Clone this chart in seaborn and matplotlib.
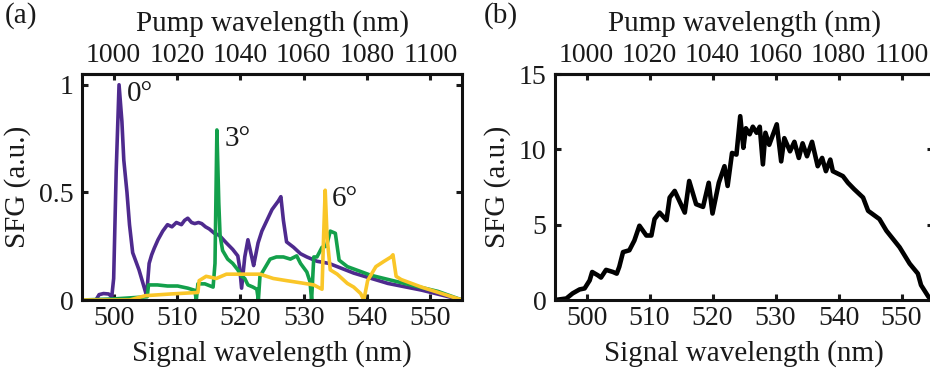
import numpy as np
import pandas as pd
import matplotlib
matplotlib.use("Agg")
import matplotlib.pyplot as plt
import seaborn as sns

# ---------------- data ----------------
# Panel (a): normalized SFG vs signal wavelength for three angles
lam0 = [495, 497.2, 497.7, 498.4, 499.2, 499.7, 500.0, 500.4, 500.85, 501.3, 501.6, 502.1, 502.5,
        503.0, 504.0, 504.8, 505.2, 505.6, 506.0, 506.4, 507.0, 507.75, 508.5, 509.2, 509.9, 510.7,
        511.2, 511.7, 512.3, 512.8, 513.4, 513.9, 514.5, 515.1, 515.9, 516.7, 517.8, 518.8, 519.6,
        519.9, 520.2, 520.7, 521.2, 521.8, 522.1, 522.8, 523.4, 524.2, 525.0, 526.0, 526.4, 526.8,
        527.3, 528.4, 529.5, 530.5, 532.1, 534.0, 537.9, 543.3, 548.6, 555]
sfg0 = [0, 0.0, 0.025, 0.03, 0.028, 0.015, 0.1, 0.6, 1.0, 0.83, 0.65, 0.5, 0.35, 0.22, 0.14, 0.06,
        0.02, 0.17, 0.21, 0.24, 0.28, 0.32, 0.35, 0.34, 0.36, 0.35, 0.37, 0.38, 0.36, 0.355, 0.36,
        0.355, 0.34, 0.33, 0.31, 0.30, 0.265, 0.235, 0.205, 0.15, 0.055, 0.2, 0.28, 0.2, 0.16, 0.265,
        0.32, 0.37, 0.42, 0.46, 0.48, 0.37, 0.27, 0.245, 0.215, 0.2, 0.18, 0.17, 0.125, 0.077, 0.046, 0.0]

lam3 = [495, 500, 505.3, 505.5, 506.9, 508.5, 510.1, 511.7, 512.8, 513.05, 513.3, 514.4, 515.7,
        516.0, 516.3, 516.6, 516.8, 517.2, 518.0, 518.8, 519.6, 520.2, 520.7, 521.2, 522.0, 522.6,
        522.85, 523.1, 523.9, 524.7, 525.7, 526.8, 527.9, 528.9, 529.5, 530.5, 531.0, 531.25, 531.6,
        532.1, 532.9, 533.6, 534.2, 535.0, 535.6, 536.9, 540.6, 545.9, 551.2, 555]
sfg3 = [0, 0.005, 0.015, 0.07, 0.07, 0.065, 0.065, 0.055, 0.045, 0.0, 0.075, 0.075, 0.06, 0.17,
        0.79, 0.45, 0.30, 0.23, 0.19, 0.17, 0.14, 0.11, 0.1, 0.07, 0.06, 0.05, 0.0, 0.11, 0.15, 0.19,
        0.2, 0.2, 0.19, 0.205, 0.17, 0.13, 0.085, 0.0, 0.2, 0.2, 0.245, 0.25, 0.32, 0.31, 0.185,
        0.155, 0.115, 0.077, 0.04, 0.0]

lam6 = [495, 502.5, 505.0, 509.0, 513.3, 513.5, 514.6, 516.2, 517.8, 519.4, 521.5, 523.1, 525.2,
        527.3, 529.5, 531.6, 532.9, 533.15, 533.4, 533.7, 534.2, 535.3, 536.9, 537.9, 539.0, 539.5,
        540.1, 541.4, 542.7, 543.8, 544.1, 544.6, 545.4, 548.6, 551.8, 555]
sfg6 = [0, 0.0, 0.02, 0.028, 0.035, 0.09, 0.11, 0.1, 0.12, 0.12, 0.12, 0.12, 0.1, 0.09, 0.08, 0.07,
        0.05, 0.3, 0.51, 0.29, 0.14, 0.12, 0.077, 0.06, 0.03, 0.0, 0.09, 0.155, 0.18, 0.2, 0.21, 0.11,
        0.095, 0.06, 0.03, 0.0]

angle_labels = ["0°", "3°", "6°"]
angle_colors = ["#4E2A8E", "#13A04B", "#FAC628"]
angle_label_pos = [(502.1, 0.955), (517.5, 0.75), (534.5, 0.47)]

# Panel (b): SFG vs signal wavelength
lamb = [495, 496.8, 497.8, 498.9, 499.7, 500.5, 500.9, 501.8, 502.3, 503.1, 504.2, 504.8, 505.2,
        505.8, 506.8, 507.6, 508.4, 509.5, 510.3, 510.8, 511.6, 512.7, 513.2, 514.0, 515.6, 516.3,
        517.4, 518.5, 519.4, 520.0, 521.0, 521.9, 522.4, 523.1, 523.8, 524.0, 524.4, 524.9, 525.3,
        525.9, 526.4, 527.0, 527.5, 528.0, 528.4, 529.0, 530.2, 530.9, 531.4, 532.3, 533.0, 533.7,
        534.3, 535.0, 535.8, 536.7, 537.4, 538.0, 538.7, 539.1, 540.7, 541.5, 542.5, 543.9, 544.7,
        546.5, 547.6, 549.7, 551.3, 552.6, 553.1, 554.3, 555]
sfgb = [0, 0.1, 0.44, 0.7, 0.77, 1.3, 1.86, 1.64, 1.49, 2.0, 1.86, 1.75, 2.2, 3.18, 3.3, 3.95, 4.93,
        4.28, 4.28, 5.37, 5.8, 5.3, 6.8, 7.24, 5.8, 7.9, 6.36, 6.18, 7.78, 5.74, 7.78, 8.88, 7.57,
        9.76, 9.65, 10.5, 12.2, 10.1, 11.4, 11.0, 11.5, 11.1, 11.5, 9.0, 11.1, 10.3, 11.66, 9.2,
        10.74, 9.87, 10.5, 9.43, 10.4, 9.54, 10.5, 8.88, 9.43, 8.55, 9.32, 8.55, 8.22, 7.78, 7.35,
        6.8, 5.92, 5.37, 4.6, 3.5, 2.41, 1.75, 0.99, 0.2, 0.0]

signal_ticks = [500, 510, 520, 530, 540, 550]
pump_ticks = [1000, 1020, 1040, 1060, 1080, 1100]
a_yticks = [0, 0.5, 1]
a_yticklabels = ["0", "0.5", "1"]
b_yticks = [0, 5, 10, 15]

# ---------------- style ----------------
sns.set_style("ticks")
plt.rcParams["font.family"] = ["Liberation Serif", "DejaVu Serif"]
FS = 20
LFS = 21
TXT = "#1a1a1a"

df_a = pd.concat([
    pd.DataFrame({"signal": lam0, "sfg": sfg0, "angle": angle_labels[0]}),
    pd.DataFrame({"signal": lam3, "sfg": sfg3, "angle": angle_labels[1]}),
    pd.DataFrame({"signal": lam6, "sfg": sfg6, "angle": angle_labels[2]}),
], ignore_index=True)
df_b = pd.DataFrame({"signal": lamb, "sfg": sfgb})

fig = plt.figure(figsize=(9.3, 3.75), dpi=100)
W, H = 930, 375
ax_a = fig.add_axes([82 / W, (H - 300) / H, 380 / W, 226 / H])
ax_b = fig.add_axes([555 / W, (H - 300) / H, 378 / W, 226 / H])

sns.lineplot(data=df_a, x="signal", y="sfg", hue="angle", hue_order=angle_labels,
             palette=dict(zip(angle_labels, angle_colors)), estimator=None, sort=False,
             linewidth=2.6, legend=False, ax=ax_a)
sns.lineplot(data=df_b, x="signal", y="sfg", color="black", estimator=None, sort=False,
             linewidth=3.3, legend=False, ax=ax_b)

for lab, (xx, yy) in zip(angle_labels, angle_label_pos):
    ax_a.text(xx, yy, lab, fontsize=LFS, color=TXT, ha="left", va="center")


def style_axis(ax, ylim, yticks, yticklabels):
    ax.set_xlim(495, 555)
    ax.set_ylim(*ylim)
    ax.set_xticks(signal_ticks)
    ax.set_xticklabels([str(t) for t in signal_ticks])
    ax.set_yticks(yticks)
    ax.set_yticklabels(yticklabels)
    ax.set_xlabel("Signal wavelength (nm)", fontsize=LFS, color=TXT, labelpad=7)
    ax.set_ylabel("SFG (a.u.)", fontsize=LFS, color=TXT, labelpad=6)
    ax.tick_params(axis="both", which="major", direction="in", length=4.5, width=2.2,
                   labelsize=FS, colors=TXT, pad=6, top=False, right=True)
    ax.tick_params(axis="x", pad=4)
    for s in ax.spines.values():
        s.set_visible(True)
        s.set_linewidth(2.2)
        s.set_color("#111111")
    sec = ax.secondary_xaxis("top", functions=(lambda s: 2 * s, lambda p: p / 2))
    sec.set_xticks(pump_ticks)
    sec.set_xticklabels([str(t) for t in pump_ticks])
    sec.tick_params(direction="in", length=4.5, width=2.2, labelsize=FS, colors=TXT, pad=4)
    sec.spines["top"].set_linewidth(2.2)
    sec.spines["top"].set_color("#111111")
    sec.set_xlabel("Pump wavelength (nm)", fontsize=LFS, color=TXT, labelpad=9)
    return sec


style_axis(ax_a, (0, 1.05), a_yticks, a_yticklabels)
style_axis(ax_b, (0, 15), b_yticks, [str(t) for t in b_yticks])

fig.text(5 / W, 1 - 16 / H, "(a)", fontsize=LFS, color=TXT, ha="left", va="center")
fig.text(484 / W, 1 - 16 / H, "(b)", fontsize=LFS, color=TXT, ha="left", va="center")

fig.savefig("out.png", dpi=100, facecolor="white")
